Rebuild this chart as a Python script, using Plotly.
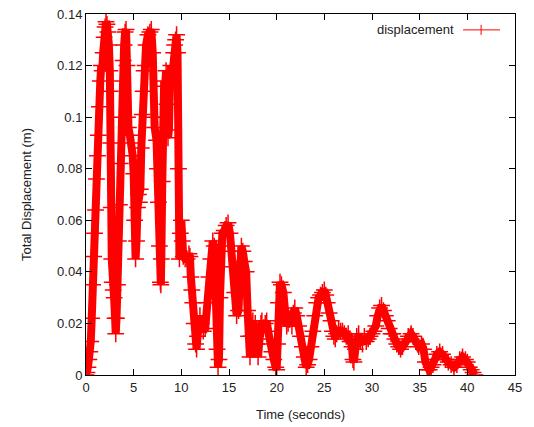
import plotly.graph_objects as go

# ---- data (time in s, displacement in m) ----
time_s = [
    0.0, 0.1, 0.2, 0.3, 0.4, 0.5, 0.6, 0.7, 0.8, 0.9, 1.0, 1.1, 1.2, 1.3, 1.4, 1.5,
    1.6, 1.7, 1.8, 1.9, 2.0, 2.1, 2.2, 2.3, 2.4, 2.5, 2.55, 2.6, 2.65, 2.7, 2.75,
    2.85, 2.95, 3.05, 3.12, 3.2, 3.3, 3.4, 3.5, 3.6, 3.7, 3.8, 3.9, 4.0, 4.1, 4.2,
    4.3, 4.35, 4.45, 4.6, 4.75, 4.9, 5.0, 5.1, 5.2, 5.3, 5.4, 5.5, 5.6, 5.7, 5.8,
    5.9, 6.0, 6.1, 6.2, 6.3, 6.5, 6.7, 6.85, 7.0, 7.05, 7.2, 7.4, 7.5, 7.6, 7.7,
    7.8, 7.85, 7.9, 8.0, 8.1, 8.2, 8.3, 8.4, 8.5, 8.6, 8.7, 8.8, 8.9, 9.0, 9.1,
    9.2, 9.3, 9.4, 9.5, 9.6, 9.7, 9.8, 9.9, 10.0, 10.1, 10.2, 10.4, 10.6, 10.8,
    10.9, 11.0, 11.1, 11.2, 11.35, 11.5, 11.6, 11.7, 11.85, 11.95, 12.1, 12.3,
    12.5, 12.7, 12.9, 13.1, 13.3, 13.45, 13.6, 13.75, 13.85, 13.95, 14.05, 14.15,
    14.3, 14.5, 14.7, 14.9, 15.1, 15.3, 15.45, 15.6, 15.8, 16.0, 16.15, 16.3,
    16.45, 16.6, 16.8, 16.95, 17.05, 17.2, 17.35, 17.5, 17.6, 17.75, 17.9, 18.05,
    18.2, 18.35, 18.45, 18.6, 18.8, 18.95, 19.1, 19.3, 19.5, 19.7, 19.9, 20.0,
    20.1, 20.2, 20.35, 20.5, 20.7, 20.9, 21.05, 21.2, 21.4, 21.6, 21.75, 21.9,
    22.1, 22.3, 22.5, 22.7, 22.9, 23.1, 23.25, 23.4, 23.6, 23.8, 24.0, 24.2,
    24.4, 24.6, 24.8, 25.0, 25.15, 25.3, 25.5, 25.7, 25.85, 26.0, 26.15, 26.3,
    26.5, 26.7, 26.9, 27.1, 27.3, 27.5, 27.7, 27.9, 28.0, 28.1, 28.25, 28.4,
    28.6, 28.8, 29.0, 29.2, 29.4, 29.6, 29.8, 30.0, 30.2, 30.4, 30.6, 30.8,
    31.0, 31.2, 31.4, 31.6, 31.8, 32.0, 32.2, 32.4, 32.6, 32.8, 33.0, 33.2,
    33.5, 33.8, 34.1, 34.3, 34.6, 34.9, 35.2, 35.4, 35.6, 35.8, 36.0, 36.2,
    36.4, 36.6, 36.8, 37.1, 37.4, 37.7, 38.0, 38.3, 38.6, 38.9, 39.2, 39.5,
    39.8, 40.0, 40.2, 40.4, 40.6, 40.8,
]
displacement = [
    0.0, 0.001, 0.003, 0.006, 0.009, 0.013, 0.022, 0.035, 0.046, 0.055, 0.064, 0.076,
    0.085, 0.093, 0.104, 0.114, 0.120, 0.118, 0.125, 0.131, 0.135, 0.137, 0.136,
    0.133, 0.128, 0.118, 0.110, 0.090, 0.065, 0.045, 0.036, 0.033, 0.030, 0.022,
    0.016, 0.022, 0.035, 0.052, 0.066, 0.082, 0.100, 0.114, 0.122, 0.128, 0.133,
    0.134, 0.120, 0.100, 0.096, 0.093, 0.090, 0.085, 0.078, 0.060, 0.045, 0.052,
    0.065, 0.070, 0.067, 0.072, 0.088, 0.101, 0.110, 0.118, 0.120, 0.128, 0.132,
    0.133, 0.134, 0.125, 0.100, 0.096, 0.091, 0.080, 0.067, 0.050, 0.036, 0.035,
    0.045, 0.075, 0.100, 0.114, 0.112, 0.118, 0.105, 0.092, 0.095, 0.112, 0.120,
    0.116, 0.118, 0.125, 0.128, 0.130, 0.132, 0.125, 0.080, 0.045, 0.055, 0.060,
    0.052, 0.046, 0.045, 0.045, 0.047, 0.046, 0.038, 0.033, 0.028, 0.020, 0.012,
    0.010, 0.015, 0.020, 0.023, 0.020, 0.017, 0.018, 0.028, 0.038, 0.045, 0.052,
    0.050, 0.030, 0.010, 0.003, 0.006, 0.030, 0.050, 0.055, 0.056, 0.058, 0.059,
    0.055, 0.048, 0.042, 0.032, 0.023, 0.025, 0.040, 0.050, 0.048, 0.044, 0.040,
    0.025, 0.015, 0.007, 0.015, 0.021, 0.018, 0.020, 0.012, 0.007, 0.014, 0.020,
    0.021, 0.018, 0.020, 0.021, 0.017, 0.012, 0.009, 0.006, 0.003, 0.002, 0.012,
    0.028, 0.036, 0.035, 0.032, 0.024, 0.019, 0.020, 0.022, 0.019, 0.024, 0.026,
    0.023, 0.019, 0.015, 0.011, 0.007, 0.003, 0.004, 0.006, 0.011, 0.017, 0.023,
    0.028, 0.030, 0.031, 0.032, 0.033, 0.031, 0.028, 0.024, 0.021, 0.017, 0.015,
    0.014, 0.016, 0.018, 0.017, 0.017, 0.016, 0.015, 0.016, 0.013, 0.011, 0.006,
    0.005, 0.010, 0.015, 0.016, 0.013, 0.012, 0.015, 0.013, 0.014, 0.015, 0.016,
    0.017, 0.019, 0.023, 0.026, 0.027, 0.025, 0.023, 0.021, 0.018, 0.016, 0.016,
    0.014, 0.012, 0.011, 0.010, 0.011, 0.013, 0.015, 0.016, 0.015, 0.013, 0.011,
    0.012, 0.010, 0.005, 0.002, 0.002, 0.003, 0.004, 0.006, 0.008, 0.009, 0.008,
    0.006, 0.005, 0.004, 0.003, 0.004, 0.006, 0.007, 0.006, 0.005, 0.003, 0.002,
    0.001, 0.0,
]
series_name = "displacement"

RED = "#ff0000"
FONT = dict(family="Liberation Sans, Arial, sans-serif", color="#222222", size=13)

fig = go.Figure()
fig.add_trace(go.Scatter(
    x=time_s, y=displacement,
    name=series_name,
    mode="lines+markers",
    line=dict(color=RED, width=8),
    marker=dict(symbol="cross-thin", size=12, line=dict(color=RED, width=1.5)),
    showlegend=False,
))

# gnuplot-style key: text first, then the line sample
fig.add_annotation(
    x=0.862, y=0.956, xref="paper", yref="paper",
    text=series_name, showarrow=False, xanchor="right", yanchor="middle",
    font=FONT,
)
fig.add_shape(type="line", xref="paper", yref="paper",
              x0=0.879, x1=0.965, y0=0.956, y1=0.956, line=dict(color=RED, width=1))
fig.add_shape(type="line", xref="paper", yref="paper",
              x0=0.921, x1=0.921, y0=0.942, y1=0.970, line=dict(color=RED, width=1))

axis_style = dict(
    showgrid=False, zeroline=False,
    showline=True, linecolor="black", linewidth=1, mirror="ticks",
    ticks="inside", ticklen=6, tickcolor="black", tickwidth=1,
    tickfont=FONT, automargin=False, ticklabeloverflow="allow",
)

# the page body adds an 8px offset, so margins are shifted to compensate
fig.update_layout(
    width=534, height=427,
    margin=dict(l=78, r=27, t=6, b=60),
    paper_bgcolor="white", plot_bgcolor="white",
    font=FONT,
    xaxis=dict(range=[0, 45], tickvals=[0, 5, 10, 15, 20, 25, 30, 35, 40, 45],
               title=dict(text="Time (seconds)", font=FONT, standoff=16), **axis_style),
    yaxis=dict(range=[0, 0.14],
               tickvals=[0, 0.02, 0.04, 0.06, 0.08, 0.1, 0.12, 0.14],
               ticktext=["0", "0.02", "0.04", "0.06", "0.08", "0.1", "0.12", "0.14"],
               title=dict(text="Total Displacement (m)", font=FONT, standoff=22), **axis_style),
)

fig.write_html("out.html")
